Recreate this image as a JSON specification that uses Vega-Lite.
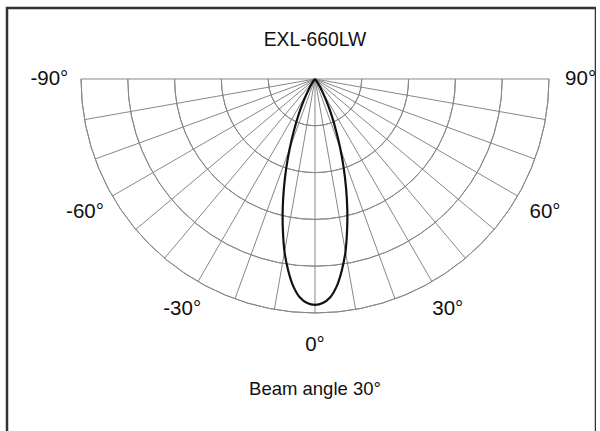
{
  "$schema": "https://vega.github.io/schema/vega-lite/v6.json",
  "width": 589,
  "height": 432,
  "autosize": "none",
  "padding": {"left": 7, "top": 8, "right": 0, "bottom": 0},
  "background": "white",
  "config": {
    "view": {"stroke": "#333333", "strokeWidth": 2.5},
    "font": "Liberation Sans"
  },
  "title": {
    "text": "EXL-660LW",
    "frame": "group",
    "anchor": "middle",
    "orient": "top",
    "offset": -57,
    "dx": 13.5,
    "baseline": "alphabetic",
    "fontSize": 19.3,
    "fontWeight": "normal",
    "font": "Liberation Sans",
    "color": "#111111"
  },
  "datasets": {
    "beam": [
      {"angle": -45, "intensity": 0},
      {"angle": -40, "intensity": 0.6},
      {"angle": -36, "intensity": 1.8},
      {"angle": -32, "intensity": 4.5},
      {"angle": -28, "intensity": 9.5},
      {"angle": -25, "intensity": 16},
      {"angle": -22, "intensity": 24.5},
      {"angle": -20, "intensity": 31.5},
      {"angle": -18, "intensity": 39.5},
      {"angle": -16, "intensity": 48},
      {"angle": -14, "intensity": 57},
      {"angle": -12, "intensity": 66},
      {"angle": -10, "intensity": 75},
      {"angle": -8, "intensity": 82.5},
      {"angle": -6, "intensity": 89},
      {"angle": -4, "intensity": 93.5},
      {"angle": -2, "intensity": 95.8},
      {"angle": 0, "intensity": 96.5},
      {"angle": 2, "intensity": 95.8},
      {"angle": 4, "intensity": 93.5},
      {"angle": 6, "intensity": 89},
      {"angle": 8, "intensity": 82.5},
      {"angle": 10, "intensity": 75},
      {"angle": 12, "intensity": 66},
      {"angle": 14, "intensity": 57},
      {"angle": 16, "intensity": 48},
      {"angle": 18, "intensity": 39.5},
      {"angle": 20, "intensity": 31.5},
      {"angle": 22, "intensity": 24.5},
      {"angle": 25, "intensity": 16},
      {"angle": 28, "intensity": 9.5},
      {"angle": 32, "intensity": 4.5},
      {"angle": 36, "intensity": 1.8},
      {"angle": 40, "intensity": 0.6},
      {"angle": 45, "intensity": 0}
    ],
    "rings": [
      {"level": 20}, {"level": 40}, {"level": 60}, {"level": 80}, {"level": 100}
    ],
    "spokes": [
      {"angle": -90}, {"angle": -80}, {"angle": -70}, {"angle": -60}, {"angle": -50},
      {"angle": -40}, {"angle": -30}, {"angle": -20}, {"angle": -10}, {"angle": 0},
      {"angle": 10}, {"angle": 20}, {"angle": 30}, {"angle": 40}, {"angle": 50},
      {"angle": 60}, {"angle": 70}, {"angle": 80}, {"angle": 90}
    ],
    "labels": [
      {"angle": -90, "label": "-90°"},
      {"angle": -60, "label": "-60°"},
      {"angle": -30, "label": "-30°"},
      {"angle": 0, "label": "0°"},
      {"angle": 30, "label": "30°"},
      {"angle": 60, "label": "60°"},
      {"angle": 90, "label": "90°"}
    ],
    "caption": [
      {"text": "Beam angle 30°"}
    ]
  },
  "layer": [
    {
      "data": {"name": "spokes"},
      "transform": [
        {"calculate": "100 * sin(datum.angle * PI / 180)", "as": "ex"},
        {"calculate": "100 * cos(datum.angle * PI / 180)", "as": "ey"}
      ],
      "mark": {"type": "rule", "color": "#888888", "strokeWidth": 1},
      "encoding": {
        "x": {"field": "ex", "type": "quantitative", "scale": {"domain": [-131.62, 120.09], "nice": false, "zero": false}, "axis": null},
        "y": {"field": "ey", "type": "quantitative", "scale": {"domain": [-30.34, 154.27], "nice": false, "zero": false, "reverse": true}, "axis": null},
        "x2": {"datum": 0},
        "y2": {"datum": 0}
      }
    },
    {
      "data": {"name": "rings"},
      "mark": {"type": "arc", "theta": 1.5707963, "theta2": 4.712389, "filled": false, "color": "#888888", "strokeWidth": 1},
      "encoding": {
        "x": {"datum": 0, "type": "quantitative", "axis": null},
        "y": {"datum": 0, "type": "quantitative", "axis": null},
        "radius": {"field": "level", "type": "quantitative", "stack": null, "scale": {"type": "linear", "domain": [0, 100], "range": [0, 234], "zero": true}},
        "radius2": {"field": "level"}
      }
    },
    {
      "data": {"name": "beam"},
      "transform": [
        {"calculate": "datum.intensity * sin(datum.angle * PI / 180)", "as": "bx"},
        {"calculate": "datum.intensity * cos(datum.angle * PI / 180)", "as": "by"}
      ],
      "mark": {"type": "line", "color": "#111111", "strokeWidth": 2.2, "interpolate": "catmull-rom"},
      "encoding": {
        "x": {"field": "bx", "type": "quantitative", "axis": null},
        "y": {"field": "by", "type": "quantitative", "axis": null},
        "order": {"field": "angle", "type": "quantitative"}
      }
    },
    {
      "data": {"name": "labels"},
      "transform": [
        {"calculate": "113.5 * sin(datum.angle * PI / 180)", "as": "lx"},
        {"calculate": "113.5 * cos(datum.angle * PI / 180)", "as": "ly"}
      ],
      "mark": {"type": "text", "fontSize": 20.5, "font": "Liberation Sans", "color": "#111111", "align": "center", "baseline": "middle"},
      "encoding": {
        "x": {"field": "lx", "type": "quantitative", "axis": null},
        "y": {"field": "ly", "type": "quantitative", "axis": null},
        "text": {"field": "label"}
      }
    },
    {
      "data": {"name": "caption"},
      "mark": {"type": "text", "fontSize": 18.5, "font": "Liberation Sans", "color": "#111111", "align": "center", "baseline": "alphabetic"},
      "encoding": {
        "x": {"datum": 0, "type": "quantitative", "axis": null},
        "y": {"datum": 135, "type": "quantitative", "axis": null},
        "text": {"field": "text"}
      }
    }
  ]
}
